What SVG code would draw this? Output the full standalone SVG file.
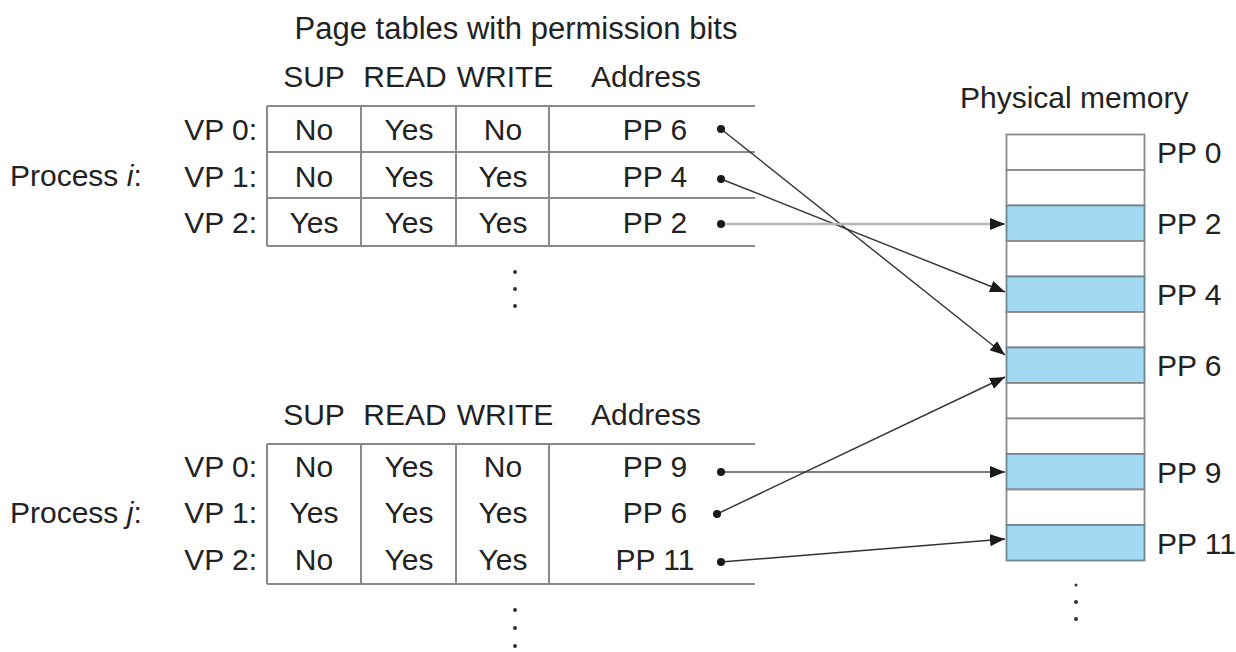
<svg xmlns="http://www.w3.org/2000/svg" width="1236" height="652" viewBox="0 0 1236 652">
<style>
text{font-family:"Liberation Sans",Arial,sans-serif;font-size:30px;fill:#222}
.c{text-anchor:middle}
.e{text-anchor:end}
.tl{stroke:#8a8a8a;stroke-width:2;fill:none}
.w{fill:#fff;stroke:#8a8a8a;stroke-width:1.8}
.b{fill:#a3d9f1;stroke:#6f8790;stroke-width:1.8}
.ar{stroke:#333;stroke-width:1.4;fill:none;marker-end:url(#ah)}
.dot{fill:#1a1a1a}
.sm{fill:#333}
</style>
<defs>
<marker id="ah" viewBox="0 0 15 12" refX="15" refY="6" markerWidth="15" markerHeight="12" markerUnits="userSpaceOnUse" orient="auto">
<path d="M0,0 L15,6 L0,12 z" fill="#1a1a1a"/>
</marker>
</defs>
<text id="title" class="c" x="516" y="39" style="font-size:31px">Page tables with permission bits</text>

<g id="table-i">
<text class="c" x="314" y="87">SUP</text>
<text class="c" x="405" y="87">READ</text>
<text class="c" x="505" y="87">WRITE</text>
<text class="c" x="646" y="87">Address</text>
<path class="tl" d="M267,106H755M267,152H755M267,198H755M267,246H755M267,106V246M361,106V246M456,106V246M549,106V246"/>
<text x="10" y="186">Process <tspan font-style="italic">i</tspan>:</text>
<text class="e" x="257" y="140">VP 0:</text>
<text class="e" x="257" y="187">VP 1:</text>
<text class="e" x="257" y="233">VP 2:</text>
<text class="c" x="314" y="140">No</text><text class="c" x="409" y="140">Yes</text><text class="c" x="503" y="140">No</text><text class="c" x="655" y="140">PP 6</text>
<text class="c" x="314" y="187">No</text><text class="c" x="409" y="187">Yes</text><text class="c" x="503" y="187">Yes</text><text class="c" x="655" y="187">PP 4</text>
<text class="c" x="314" y="233">Yes</text><text class="c" x="409" y="233">Yes</text><text class="c" x="503" y="233">Yes</text><text class="c" x="655" y="233">PP 2</text>
<circle class="sm" cx="515" cy="272" r="2"/><circle class="sm" cx="515" cy="289" r="2"/><circle class="sm" cx="515" cy="306" r="2"/>
</g>

<g id="table-j">
<text class="c" x="314" y="425">SUP</text>
<text class="c" x="405" y="425">READ</text>
<text class="c" x="505" y="425">WRITE</text>
<text class="c" x="646" y="425">Address</text>
<path class="tl" d="M267,444H755M267,584H755M267,444V584M361,444V584M456,444V584M549,444V584"/>
<text x="10" y="523">Process <tspan font-style="italic">j</tspan>:</text>
<text class="e" x="257" y="477">VP 0:</text>
<text class="e" x="257" y="523">VP 1:</text>
<text class="e" x="257" y="570">VP 2:</text>
<text class="c" x="314" y="477">No</text><text class="c" x="409" y="477">Yes</text><text class="c" x="503" y="477">No</text><text class="c" x="655" y="477">PP 9</text>
<text class="c" x="314" y="523">Yes</text><text class="c" x="409" y="523">Yes</text><text class="c" x="503" y="523">Yes</text><text class="c" x="655" y="523">PP 6</text>
<text class="c" x="314" y="570">No</text><text class="c" x="409" y="570">Yes</text><text class="c" x="503" y="570">Yes</text><text class="c" x="655" y="570">PP 11</text>
<circle class="sm" cx="515" cy="610" r="2"/><circle class="sm" cx="515" cy="628" r="2"/><circle class="sm" cx="515" cy="646" r="2"/>
</g>

<g id="physical-memory">
<text x="960" y="108">Physical memory</text>
<rect class="w" x="1006.5" y="134.5" width="138" height="35.5"/>
<rect class="w" x="1006.5" y="170" width="138" height="35.5"/>
<rect class="b" x="1006.5" y="205.5" width="138" height="35.5"/>
<rect class="w" x="1006.5" y="241" width="138" height="35.5"/>
<rect class="b" x="1006.5" y="276.5" width="138" height="35.5"/>
<rect class="w" x="1006.5" y="312" width="138" height="35.5"/>
<rect class="b" x="1006.5" y="347.5" width="138" height="35.5"/>
<rect class="w" x="1006.5" y="383" width="138" height="35.5"/>
<rect class="w" x="1006.5" y="418.5" width="138" height="35.5"/>
<rect class="b" x="1006.5" y="454" width="138" height="35.5"/>
<rect class="w" x="1006.5" y="489.5" width="138" height="35.5"/>
<rect class="b" x="1006.5" y="525" width="138" height="35.5"/>
<text x="1157" y="163">PP 0</text>
<text x="1157" y="234">PP 2</text>
<text x="1157" y="305">PP 4</text>
<text x="1157" y="376">PP 6</text>
<text x="1157" y="483">PP 9</text>
<text x="1157" y="554">PP 11</text>
<circle class="sm" cx="1076" cy="585" r="1.5"/><circle class="sm" cx="1076" cy="602" r="2"/><circle class="sm" cx="1076" cy="619" r="2"/>
</g>

<g id="connectors">
<line class="ar" x1="721" y1="129" x2="1005" y2="355"/>
<line class="ar" x1="721" y1="179" x2="1005" y2="292"/>
<line class="ar" x1="721" y1="224" x2="1005" y2="224" style="stroke:#b5b5b5;stroke-width:2.5"/>
<line class="ar" x1="721" y1="472" x2="1005" y2="472" style="stroke:#555"/>
<line class="ar" x1="717" y1="514" x2="1005" y2="377"/>
<line class="ar" x1="721" y1="562" x2="1005" y2="539"/>
<circle class="dot" cx="721" cy="129" r="4"/>
<circle class="dot" cx="721" cy="179" r="4"/>
<circle class="dot" cx="721" cy="224" r="4"/>
<circle class="dot" cx="721" cy="472" r="4"/>
<circle class="dot" cx="717" cy="514" r="4"/>
<circle class="dot" cx="721" cy="562" r="4"/>
</g>
</svg>
